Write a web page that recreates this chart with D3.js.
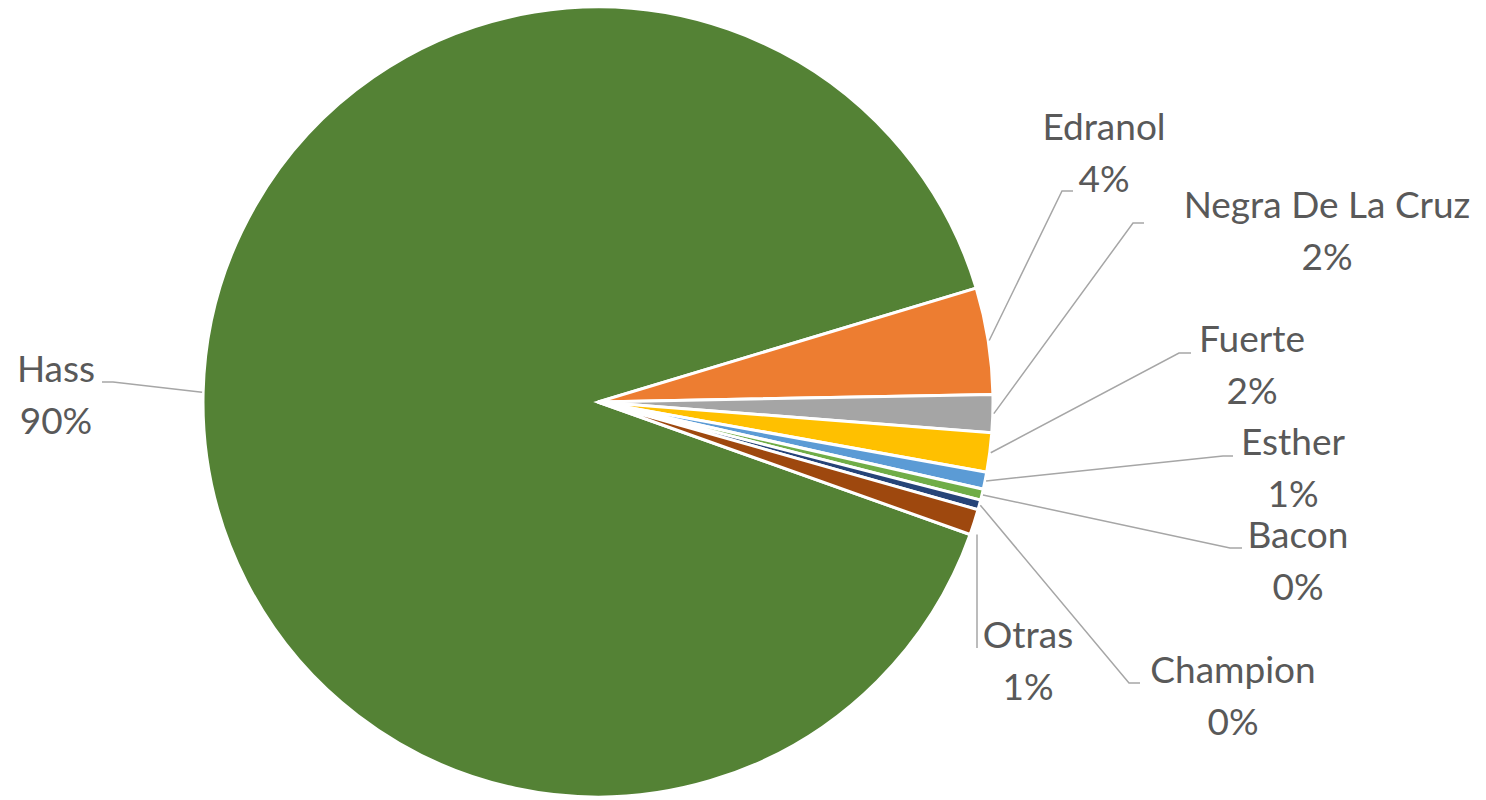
<!DOCTYPE html>
<html>
<head>
<meta charset="utf-8">
<script src="https://cdn.jsdelivr.net/npm/d3@7"></script>
<style>
  body { margin: 0; background: #fff; }
  svg text { font-family: Lato, "Open Sans", sans-serif; fill: #595959; }
</style>
</head>
<body>
<div id="chart"></div>
<script>
// data
const varieties = ["Hass", "Edranol", "Negra De La Cruz", "Fuerte", "Esther", "Bacon", "Champion", "Otras"];
const shares = [89.9, 4.35, 1.55, 1.6, 0.7, 0.45, 0.4, 1.05];
const percentLabels = ["90%", "4%", "2%", "2%", "1%", "0%", "0%", "1%"];
const sliceColors = ["#548235", "#ED7D31", "#A5A5A5", "#FFC000", "#5B9BD5", "#70AD47", "#264478", "#9E480E"];

// label placement (text centre x, first baseline y, elbow point of leader)
const labelPos = {
  "Hass":             { x: 56,   y: 382, elbow: [113, 382], end: [102, 382] },
  "Edranol":          { x: 1104, y: 140, elbow: [1062, 191], end: [1073, 191] },
  "Negra De La Cruz": { x: 1327, y: 218, elbow: [1133, 223], end: [1144, 223] },
  "Fuerte":           { x: 1252, y: 352, elbow: [1179, 353], end: [1191, 353] },
  "Esther":           { x: 1293, y: 455, elbow: [1223, 456], end: [1233, 456] },
  "Bacon":            { x: 1298, y: 548, elbow: [1230, 548], end: [1242, 548] },
  "Champion":         { x: 1233, y: 683, elbow: [1129, 683], end: [1140, 683] },
  "Otras":            { x: 1028, y: 648, elbow: null, end: [977, 648] }
};

const width = 1486, height = 800;
const cx = 598, cy = 402, radius = 395;
const firstSliceAngle = 109.6 * Math.PI / 180;

const svg = d3.select("#chart").append("svg")
  .attr("width", width)
  .attr("height", height);

const data = varieties.map((name, i) => ({ name: name, value: shares[i], label: percentLabels[i], color: sliceColors[i] }));

const pie = d3.pie()
  .sort(null)
  .value(d => d.value)
  .startAngle(firstSliceAngle)
  .endAngle(firstSliceAngle + 2 * Math.PI);

const arc = d3.arc().innerRadius(0).outerRadius(radius);

const g = svg.append("g").attr("transform", `translate(${cx},${cy})`);

const arcs = pie(data);

g.selectAll("path.slice")
  .data(arcs)
  .join("path")
  .attr("class", "slice")
  .attr("d", arc)
  .attr("fill", d => d.data.color)
  .attr("stroke", "#fff")
  .attr("stroke-width", 3)
  .attr("stroke-linejoin", "miter");

// leader lines
const lines = svg.append("g");
arcs.forEach(d => {
  const p = labelPos[d.data.name];
  const mid = (d.startAngle + d.endAngle) / 2;
  const sx = cx + (radius + 1) * Math.sin(mid);
  const sy = cy - (radius + 1) * Math.cos(mid);
  const pts = [[sx, d.data.name === "Otras" ? sy + 12 : sy]];
  if (d.data.name === "Otras") pts[0][0] = p.end[0];
  if (p.elbow) pts.push(p.elbow);
  pts.push(p.end);
  lines.append("path")
    .attr("d", d3.line()(pts))
    .attr("fill", "none")
    .attr("stroke", "#A6A6A6")
    .attr("stroke-width", 1.5);
});

// labels
const labels = svg.append("g");
arcs.forEach(d => {
  const p = labelPos[d.data.name];
  const t = labels.append("text")
    .attr("text-anchor", "middle")
    .style("font-size", "37px");
  t.append("tspan").attr("x", p.x).attr("y", p.y).text(d.data.name);
  t.append("tspan").attr("x", p.x).attr("y", p.y + 52).text(d.data.label);
});
</script>
</body>
</html>
